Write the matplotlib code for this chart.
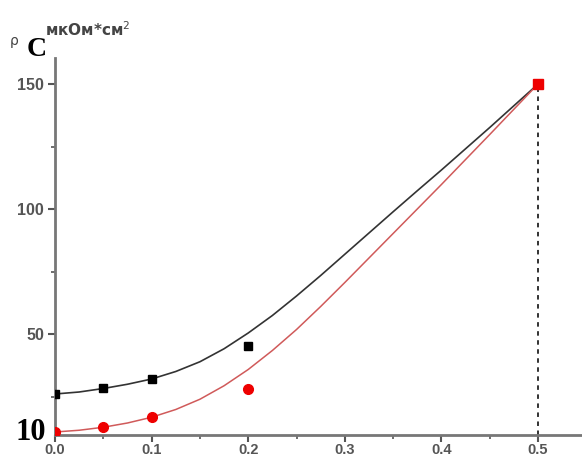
import matplotlib
matplotlib.use("Agg")
import matplotlib.pyplot as plt

# Measured points
x_pts = [0.0, 0.05, 0.1, 0.2, 0.5]
black_pts = [26.0, 28.4, 32.0, 45.2, 150.0]
red_x = [0.0, 0.05, 0.1, 0.2]
red_pts = [10.8, 12.8, 16.8, 28.0]
end_x = [0.5]
end_y = [150.0]

# Fitted curves
curve_x = [0.0, 0.025, 0.05, 0.075, 0.1, 0.125, 0.15, 0.175, 0.2, 0.225, 0.25,
           0.275, 0.3, 0.325, 0.35, 0.375, 0.4, 0.425, 0.45, 0.475, 0.5]
black_curve = [26.0, 26.8, 28.2, 29.9, 32.0, 35.0, 38.9, 44.1, 50.4, 57.4, 65.2,
               73.4, 81.9, 90.4, 98.9, 107.3, 115.6, 124.1, 132.6, 141.3, 150.0]
red_curve = [10.8, 11.5, 12.7, 14.4, 16.7, 19.8, 23.9, 29.3, 35.8, 43.4, 51.8,
             61.0, 70.6, 80.4, 90.2, 100.0, 109.8, 119.8, 129.8, 139.9, 150.0]

xticks = [0.0, 0.1, 0.2, 0.3, 0.4, 0.5]
xtick_labels = ["0.0", "0.1", "0.2", "0.3", "0.4", "0.5"]
yticks = [50, 100, 150]
ytick_labels = ["50", "100", "150"]

fig = plt.figure(figsize=(5.82, 4.59), dpi=100)
ax = fig.add_axes([55/582, 1-435/459, 1-55/582, (435-58)/459])

ax.plot(curve_x, black_curve, color="#333333", lw=1.2, zorder=2, solid_joinstyle="round")
ax.plot(curve_x, red_curve, color="#d05a5a", lw=1.1, zorder=2, solid_joinstyle="round")
ax.plot([0.5, 0.5], [9.6, 150], color="#222222", lw=1.3, ls=(0, (2.5, 2.5)), zorder=1)
ax.plot(x_pts, black_pts, ls="none", marker="s", ms=6, color="black", zorder=3)
ax.plot(red_x, red_pts, ls="none", marker="o", ms=7, color="#ee0000", zorder=3)
ax.plot(end_x, end_y, ls="none", marker="s", ms=6.5, color="#ee0000", zorder=4)

ax.set_xlim(0, 0.5455)
ax.set_ylim(9.6, 160.4)
for s in ["top", "right"]:
    ax.spines[s].set_visible(False)
for s in ["left", "bottom"]:
    ax.spines[s].set_color("#777777")
    ax.spines[s].set_linewidth(2)

ax.set_xticks(xticks)
ax.set_xticklabels(xtick_labels)
ax.set_xticks([0.05, 0.15, 0.25, 0.35, 0.45], minor=True)
ax.set_yticks(yticks)
ax.set_yticklabels(ytick_labels)
ax.set_yticks([25, 75, 125], minor=True)
ax.tick_params(which="major", direction="out", length=5, width=1.5, color="#555555",
               labelcolor="#555555")
ax.tick_params(axis="y", which="major", labelsize=11.5, pad=3)
ax.tick_params(axis="x", which="major", labelsize=10.5, pad=1)
ax.tick_params(which="minor", direction="out", length=3, width=1.2, color="#555555")
for lab in ax.get_xticklabels() + ax.get_yticklabels():
    lab.set_family("Liberation Sans")
    lab.set_fontweight("bold")

fig.text(10/582, 1-41/459, "ρ", fontsize=10, color="#444444", ha="left", va="center")
fig.text(27/582, 1-49/459, "C", fontsize=20, family="Liberation Serif", fontweight="bold",
         ha="left", va="center", color="black")
fig.text(45/582, 1-30/459, "мкОм*см$^2$", fontsize=11, color="#444444",
         fontweight="bold", family="DejaVu Sans", ha="left", va="center")
fig.text(16/582, 1-433/459, "10", fontsize=22, family="Liberation Serif", fontweight="bold",
         ha="left", va="center", color="black")

fig.savefig("out.png", dpi=100)
